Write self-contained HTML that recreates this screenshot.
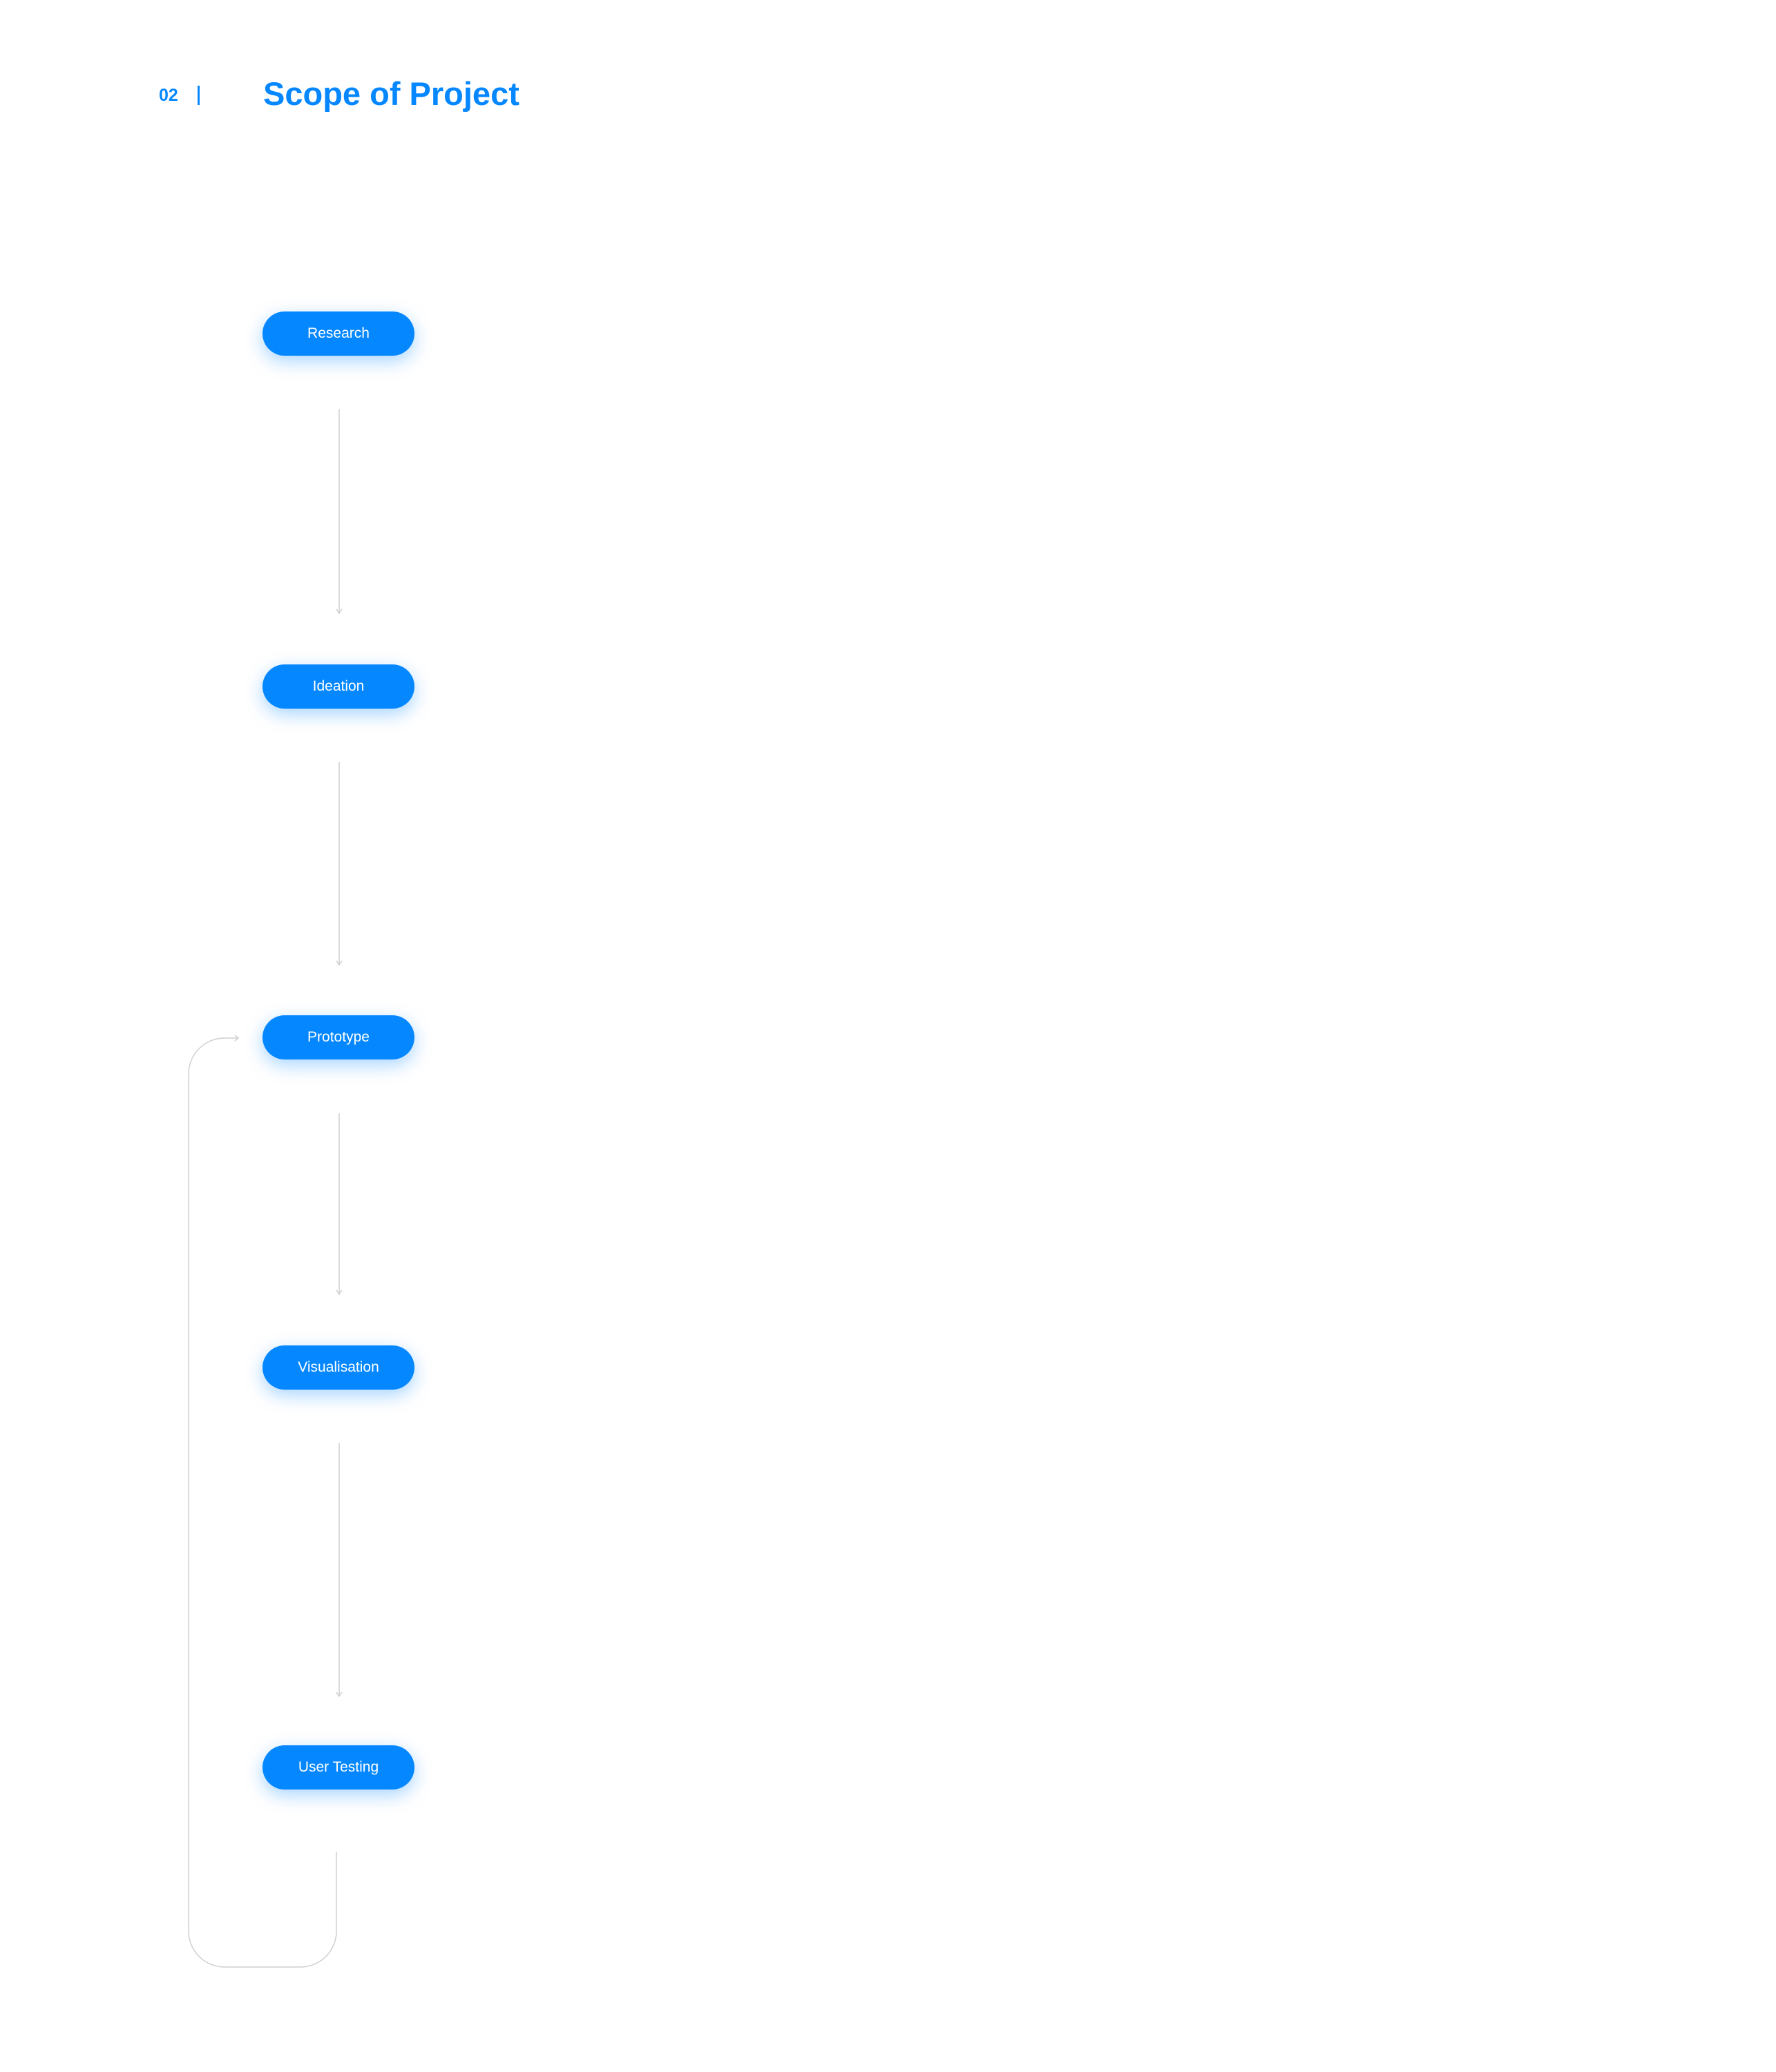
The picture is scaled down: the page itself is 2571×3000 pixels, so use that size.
<!DOCTYPE html>
<html><head><meta charset="utf-8"><style>
html,body{margin:0;padding:0;background:#fff;}
body{width:2571px;height:3000px;position:relative;overflow:hidden;font-family:"Liberation Sans",sans-serif;}
.pill{position:absolute;left:380px;width:220px;height:64px;border-radius:32px;background:#0587ff;color:#fff;font-size:21px;line-height:64px;text-align:center;box-shadow:0 8px 26px rgba(5,135,255,0.35);}
</style></head><body>
<div style="position:absolute;left:230px;top:124px;font-size:25px;font-weight:600;color:#0587ff;">02</div>
<div style="position:absolute;left:286px;top:124px;width:3px;height:28px;background:#0587ff;"></div>
<div style="position:absolute;left:381px;top:108px;font-size:47px;font-weight:bold;color:#0587ff;white-space:nowrap;">Scope of Project</div>
<svg width="2571" height="3000" style="position:absolute;left:0;top:0" fill="none" stroke="#cfcfcf" stroke-width="1.5">
<line x1="491" y1="592" x2="491" y2="887"/><path d="M487 882 L491 888 L495 882"/>
<line x1="491" y1="1103" x2="491" y2="1396"/><path d="M487 1391 L491 1397 L495 1391"/>
<line x1="491" y1="1612" x2="491" y2="1873"/><path d="M487 1868 L491 1874 L495 1868"/>
<line x1="491" y1="2089" x2="491" y2="2455"/><path d="M487 2450 L491 2456 L495 2450"/>
<path d="M487 2681 L487 2796 A52 52 0 0 1 435 2848 L325 2848 A52 52 0 0 1 273 2796 L273 1555 A52 52 0 0 1 325 1503 L345 1503"/>
<path d="M340 1499 L345 1503 L340 1507"/>
</svg>
<div class="pill" style="top:451px">Research</div>
<div class="pill" style="top:962px">Ideation</div>
<div class="pill" style="top:1470px">Prototype</div>
<div class="pill" style="top:1948px">Visualisation</div>
<div class="pill" style="top:2527px">User Testing</div>
</body></html>
